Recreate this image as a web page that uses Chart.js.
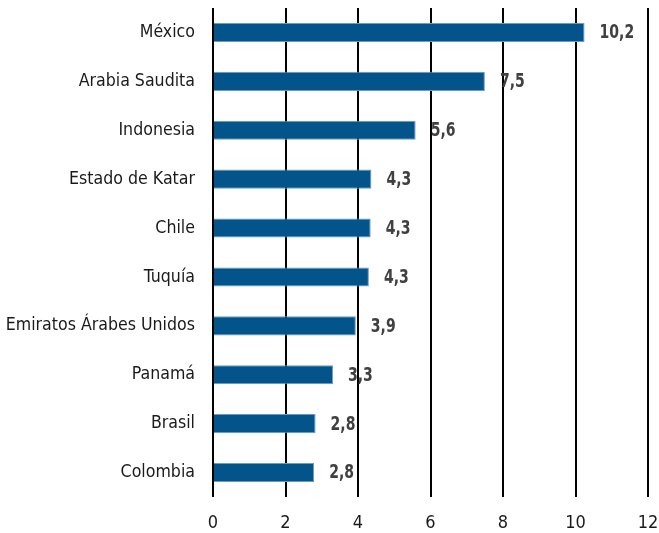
<!DOCTYPE html>
<html>
<head>
<meta charset="utf-8">
<script src="https://cdn.jsdelivr.net/npm/chart.js@4/dist/chart.umd.min.js"></script>
<style>
  html, body { margin: 0; padding: 0; background: #fff; }
  #wrap { width: 659px; height: 533px; }
</style>
</head>
<body>
<div id="wrap"><canvas id="barPaises"></canvas></div>
<script>
const paises = ["México", "Arabia Saudita", "Indonesia", "Estado de Katar", "Chile",
                "Tuquía", "Emiratos Árabes Unidos", "Panamá", "Brasil", "Colombia"];
const valores = [10.25, 7.5, 5.59, 4.37, 4.35, 4.3, 3.94, 3.31, 2.83, 2.79];
const etiquetas = ["10,2", "7,5", "5,6", "4,3", "4,3", "4,3", "3,9", "3,3", "2,8", "2,8"];
const xTicks = [0, 2, 4, 6, 8, 10, 12];

const fuente = "'Liberation Sans Narrow', 'DejaVu Sans Condensed', 'Arial Narrow', sans-serif";

// etiquetas de valor a la derecha de cada barra (negrita, algo comprimida)
const valorLabels = {
    id: 'valorLabels',
    afterDatasetsDraw(chart) {
        const ctx = chart.ctx;
        const meta = chart.getDatasetMeta(0);
        ctx.save();
        ctx.font = "bold 19px " + fuente;
        ctx.fillStyle = "#404040";
        ctx.textAlign = "left";
        ctx.textBaseline = "middle";
        meta.data.forEach((bar, i) => {
            ctx.save();
            ctx.translate(bar.x + 15, bar.y + 1);
            ctx.scale(0.82, 1);
            ctx.fillText(etiquetas[i], 0, 0);
            ctx.restore();
        });
        ctx.restore();
    }
};

const barPaises = new Chart('barPaises', {
    type: 'bar',
    data: {
        labels: paises,
        datasets: [{
            data: valores,
            backgroundColor: "#02548a",
            borderColor: "#6a9cc2",
            borderWidth: 1,
            borderSkipped: 'start',
            barPercentage: 0.39,
            categoryPercentage: 1
        }]
    },
    options: {
        indexAxis: 'y',
        responsive: true,
        maintainAspectRatio: false,
        animation: false,
        layout: {
            padding: { top: 8, right: 11, bottom: 0, left: 0 }
        },
        plugins: {
            legend: { display: false },
            tooltip: { enabled: false }
        },
        scales: {
            x: {
                min: 0,
                max: 12,
                afterBuildTicks: (scale) => {
                    scale.ticks = xTicks.map(v => ({ value: v }));
                },
                afterFit: (scale) => {
                    scale.height = 36;
                    scale.paddingLeft = 0;
                    scale.paddingRight = 0;
                },
                grid: {
                    color: "#000",
                    lineWidth: 2,
                    drawTicks: false
                },
                border: { display: false },
                ticks: {
                    padding: 16,
                    color: "#1a1a1a",
                    font: { family: fuente, size: 18 }
                }
            },
            y: {
                afterFit: (scale) => {
                    scale.width = 213;
                    scale.paddingTop = 0;
                    scale.paddingBottom = 0;
                },
                grid: { display: false },
                border: { display: false },
                ticks: {
                    padding: 10,
                    color: "#1a1a1a",
                    font: { family: fuente, size: 17.6 }
                }
            }
        }
    },
    plugins: [valorLabels]
});
</script>
</body>
</html>
